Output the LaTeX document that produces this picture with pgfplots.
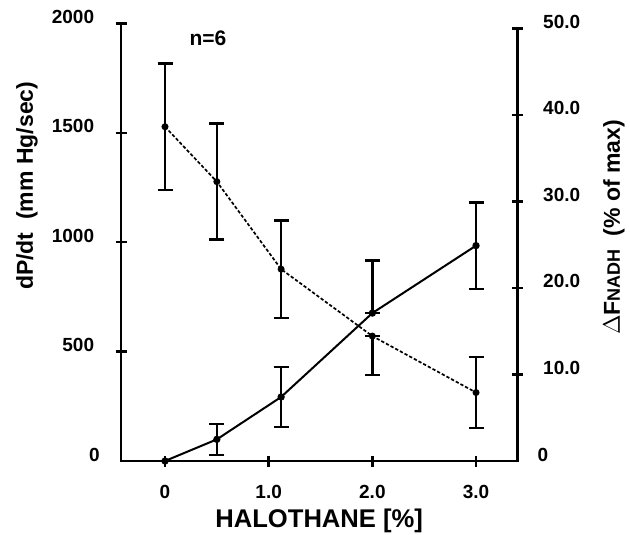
\documentclass[border=0pt]{standalone}
\usepackage{fontspec}
\setmainfont{Liberation Sans}
\usepackage{pgfplots}
\usepackage{pgfplotstable}
\pgfplotsset{compat=1.18}
\pgfplotstableread{
x y ep em
0 1528 290 290
0.5 1277 265 265
1.12 877 223 223
2 571 0 177
3 313 162 162
}\dpdt
\pgfplotstableread{
x y ep em
0 0 0 0
0.5 2.5 1.8 1.8
1.12 7.4 3.5 3.5
2 17.1 6.1 0
3 24.9 5.0 5.0
}\nadh
\pgfplotsset{
  common/.style={
    scale only axis, width=198.15pt,
    xmin=-0.4244, xmax=3.398,
    axis line style={-, line width=1.2pt, line cap=rect},
    tick align=center, major tick length=5.5pt,
    tick style={line width=1.2pt, black},
    /pgf/number format/assume math mode=true,
    every tick label/.append style={font=\fontsize{9.5}{10}\selectfont\bfseries},
    clip=false,
  },
}
\begin{document}
\begin{tikzpicture}[font=\bfseries]
\useasboundingbox (-60.5pt,-36.5pt) rectangle (254.5pt,230.5pt);
\begin{axis}[common,
  height=218.75pt, ymin=0, ymax=2000,
  axis x line*=bottom, axis y line*=left,
  xtick={0,1,2,3}, xticklabels={0,1.0,2.0,3.0},
  ytick={500,1000,1500,2000}, yticklabels={500,1000,1500,2000},
  extra y ticks={0}, extra y tick labels={0}, extra y tick style={major tick length=0pt},
  yticklabel style={anchor=base east, inner sep=0pt, xshift=-10.5pt},
  xticklabel style={anchor=north, inner sep=0pt, yshift=-9pt},
  xlabel={HALOTHANE [\%]},
  xlabel style={at={(axis description cs:0.5,-0.1509)}, anchor=base, inner sep=0pt, font=\fontsize{12.8}{14}\selectfont\bfseries},
  ylabel={dP/dt\ \ (mm Hg/sec)},
  ylabel style={at={(axis description cs:-0.2372,0.629)}, anchor=center, inner sep=0pt, font=\fontsize{11.5}{13}\selectfont\bfseries},
]
\addplot[black, line width=0.85pt, dash pattern=on 1.65pt off 1pt, mark=*, mark size=1.3pt, mark options={solid},
  error bars/.cd, y dir=both, y explicit,
  error bar style={line width=1.2pt, solid},
  error mark options={rotate=90, mark size=3.75pt, line width=1.2pt, solid}]
  table[x=x, y=y, y error plus=ep, y error minus=em] {\dpdt};
\node[font=\fontsize{10.5}{12}\selectfont\bfseries] at (axis cs:0.415,1931) {n=6};
\end{axis}
\begin{axis}[common,
  height=216.25pt, ymin=0, ymax=50,
  axis x line=none, axis y line*=right,
  ytick={10,20,30,40,50}, yticklabels={10.0,20.0,30.0,40.0,50.0},
  extra y ticks={0}, extra y tick labels={0}, extra y tick style={major tick length=0pt},
  yticklabel style={anchor=base west, inner sep=0pt, xshift=10pt},
  ylabel={{\fontsize{13}{13}\selectfont$\Delta$}F{\fontsize{9}{10}\selectfont NADH}\ \ (\% of max)},
  ylabel style={at={(axis description cs:1.2438,0.54)}, anchor=center, inner sep=0pt, font=\fontsize{11.5}{13}\selectfont\bfseries},
]
\addplot[black, line width=1pt, mark=*, mark size=1.3pt,
  error bars/.cd, y dir=both, y explicit,
  error bar style={line width=1.2pt},
  error mark options={rotate=90, mark size=3.75pt, line width=1.2pt}]
  table[x=x, y=y, y error plus=ep, y error minus=em] {\nadh};
\end{axis}
\end{tikzpicture}
\end{document}
